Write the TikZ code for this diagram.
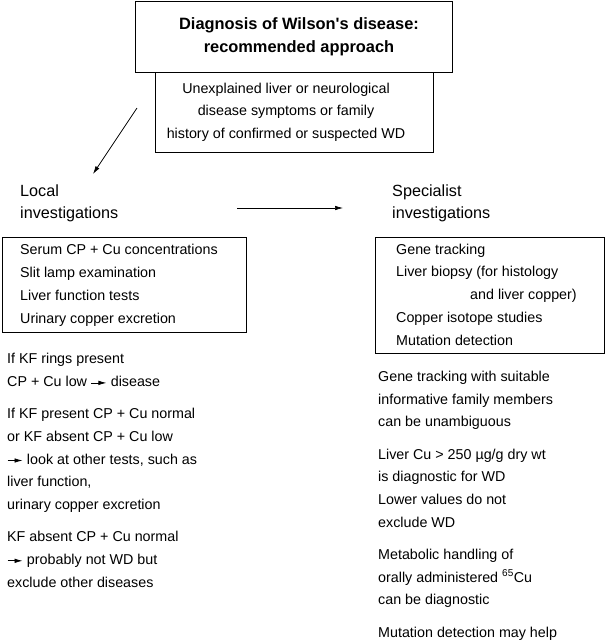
\documentclass[tikz,border=0pt]{standalone}
\usepackage{fontspec}
\setmainfont{Liberation Sans}
\usetikzlibrary{arrows.meta}

% short arrow used inside the text lines
\newcommand{\textarrow}{\tikz[baseline=-3.5pt]\draw[line width=0.8pt,-{Latex[length=8pt,width=4.5pt]}] (4pt,0pt) -- (19pt,0pt);}

\tikzset{
  box/.style={draw, line width=0.9pt, anchor=north west, inner sep=0pt},
  txt/.style={anchor=base west, inner sep=0pt, align=left, font=\fontsize{14.3}{22.7}\selectfont},
  ctxt/.style={anchor=base, inner sep=0pt, align=center, font=\fontsize{14.3}{22.5}\selectfont},
  head/.style={anchor=base west, inner sep=0pt, align=left, font=\fontsize{16.2}{22}\selectfont},
}

\begin{document}
\begin{tikzpicture}[x=1pt,y=-1pt,>={Latex[length=8pt,width=4.5pt]}]
    \useasboundingbox (0,0) rectangle (606,640);
    % top: title and starting point (anchored on the last line)
    \node[box, minimum width=278, minimum height=80] (startbox) at (155,72) {};
    \node[box, fill=white, minimum width=317, minimum height=71.5] (titlebox) at (135,0.5) {};
    \node[ctxt, font=\bfseries\fontsize{16.4}{22.5}\selectfont] (title) at (299,52)
      {Diagnosis of Wilson\textquotesingle s disease:\\recommended approach};
    \node[ctxt] (start) at (286,138)
      {Unexplained liver or neurological\\disease symptoms or family\\history of confirmed or suspected WD};
    % headings
    \node[head] (local) at (20,218) {Local\\investigations};
    \node[head] (special) at (392,218) {Specialist\\investigations};
    \coordinate (diagstart) at (137,108);
    \coordinate (diagend) at (93,174);
    \coordinate (horstart) at (237,208);
    \coordinate (horend) at (343,208);
    \draw[->,line width=0.7pt] (diagstart) -- (diagend);
    \draw[->,line width=0.7pt] (horstart) -- (horend);
    % left column
    \node[box, minimum width=244, minimum height=95] (localbox) at (2,237) {};
    \node[txt] (localtests) at (20,323)
      {Serum CP + Cu concentrations\\Slit lamp examination\\Liver function tests\\Urinary copper excretion};
    \node[txt] (localnotes) at (7,587)
      {If KF rings present\\
       CP + Cu low \textarrow{} disease\\[9.5pt]
       If KF present CP + Cu normal\\
       or KF absent CP + Cu low\\
       \textarrow{} look at other tests, such as\\
       liver function,\\
       urinary copper excretion\\[9.5pt]
       KF absent CP + Cu normal\\
       \textarrow{} probably not WD but\\
       exclude other diseases};
    % right column
    \node[box, minimum width=229, minimum height=116] (specialbox) at (375,237) {};
    \node[txt] (specialtests) at (396,345)
      {Gene tracking\\Liver biopsy (for histology\\\hspace*{74pt}and liver copper)\\Copper isotope studies\\Mutation detection};
    \node[txt] (specialnotes) at (378,637)
      {Gene tracking with suitable\\
       informative family members\\
       can be unambiguous\\[9.5pt]
       Liver Cu > 250 µg/g dry wt\\
       is diagnostic for WD\\
       Lower values do not\\
       exclude WD\\[9.5pt]
       Metabolic handling of\\
       orally administered \textsuperscript{65}Cu\\
       can be diagnostic\\[9.5pt]
       Mutation detection may help};
\end{tikzpicture}
\end{document}
